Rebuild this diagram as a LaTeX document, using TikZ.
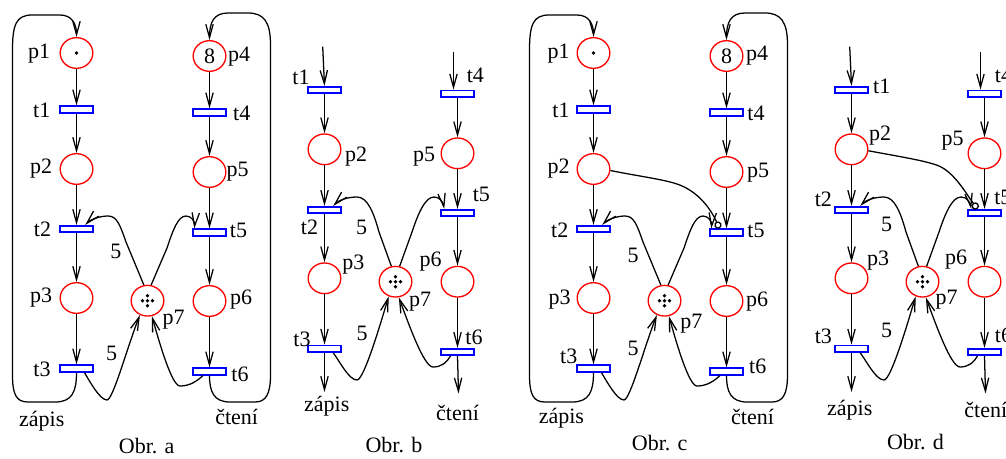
\documentclass[tikz,border=0pt]{standalone}
\usepackage{fontspec}
\setmainfont{Liberation Serif}
\usetikzlibrary{arrows.meta,shapes.geometric}
\newcommand{\netAC}{%
 \node[place] (p1) at (76.5,53) {};
 \node[trans] (t1) at (76.5,109.5) {};
 \node[place] (p2) at (76.5,169) {};
 \node[trans] (t2) at (76.5,229) {};
 \node[place] (p3) at (76.5,298) {};
 \node[trans] (t3) at (76.5,368.5) {};
 \node[place] (p4) at (209.5,56) {8};
 \node[trans] (t4) at (209.5,112.5) {};
 \node[place] (p5) at (209.5,172) {};
 \node[trans] (t5) at (209.5,232.5) {};
 \node[place] (p6) at (209.5,301) {};
 \node[trans] (t6) at (209.5,371.5) {};
 \node[place] (p7) at (147.5,300.7) {};
 \fill (p1.center) circle[radius=1.4pt];
 \foreach \dx/\dy in {0/0,5/0,-5/0,0/5,0/-5} \fill ([shift={(\dx,\dy)}]p7.center) circle[radius=1.45pt];
 \draw[arc] (p1) -- (t1);
 \draw[arc] (t1) -- (p2);
 \draw[arc] (p2) -- (t2);
 \draw[arc] (t2) -- (p3);
 \draw[arc] (p3) -- (t3);
 \draw[arc] (p4) -- (t4);
 \draw[arc] (t4) -- (p5);
 \draw[arc] (p5) -- (t5);
 \draw[arc] (t5) -- (p6);
 \draw[arc] (p6) -- (t6);
 \draw[arc] (t3.south) .. controls (76.5,392) and (72,402) .. (55,402) -- (28,402)
   .. controls (16,402) and (12.5,394) .. (12.5,375) -- (12.5,50)
   .. controls (12.5,25) and (16,15) .. (32,15) -- (60,15)
   .. controls (72,15) and (76.5,24) .. (p1.north);
 \draw[arc] (t6.south) .. controls (209.5,392) and (214,402) .. (230,402) -- (255,402)
   .. controls (266,402) and (270.5,394) .. (270.5,375) -- (270.5,45)
   .. controls (270.5,22) and (264,13) .. (248,13) -- (228,13)
   .. controls (214,13) and (209.5,22) .. (p4.north);
 \draw[arc] (p7.103) -- (126,242) .. controls (120,225) and (117,216) .. (108,216)
   .. controls (99,216) and (90,220) .. (t2.25);
 \draw[arc] (p7.77) -- (167,248) .. controls (173,230) and (178,216) .. (186,216)
   .. controls (191,216) and (195,221) .. (t5.165);
 \draw[arc] (t3.-27) .. controls (90,382) and (100,400) .. (107,400)
   .. controls (113,400) and (128,345) .. (p7.-118);
 \draw[arc] (t6.-148) .. controls (197,381) and (190,386) .. (180,386)
   .. controls (172,386) and (160,345) .. (p7.-74);
}
\newcommand{\netBD}{%
 \node[trans] (t1) at (324.5,90) {};
 \node[place] (p2) at (324.5,149.3) {};
 \node[trans] (t2) at (324.5,210) {};
 \node[place] (p3) at (324.5,278.3) {};
 \node[trans] (t3) at (324.5,348.7) {};
 \node[trans] (t4) at (457.5,93.7) {};
 \node[place] (p5) at (457.5,153.3) {};
 \node[trans] (t5) at (457.5,213) {};
 \node[place] (p6) at (457.5,281.7) {};
 \node[trans] (t6) at (457.5,352) {};
 \node[place] (p7) at (395.5,281.7) {};
 \foreach \dx/\dy in {0/0,5/0,-5/0,0/5,0/-5} \fill ([shift={(\dx,\dy)}]p7.center) circle[radius=1.45pt];
 \coordinate (in1) at (322.7,46.7);
 \coordinate (in4) at (453.5,52);
 \coordinate (out3) at (324.5,392);
 \coordinate (out6) at (458.5,393.5);
 \draw[arc] (in1) -- (t1.north);
 \draw[arc] (in4) -- ([xshift=-3pt]t4.north);
 \draw[arc] (t1) -- (p2);
 \draw[arc] (p2) -- (t2);
 \draw[arc] (t2) -- (p3);
 \draw[arc] (p3) -- (t3);
 \draw[arc] (t3.south) -- (out3);
 \draw[arc] (t4) -- (p5);
 \draw[arc] (p5) -- (t5);
 \draw[arc] (t5) -- (p6);
 \draw[arc] (p6) -- (t6);
 \draw[arc] (t6.south) -- (out6);
 \draw[arc] (p7.105) -- (379,232) .. controls (374,214) and (368,197) .. (357,197)
   .. controls (348,197) and (339,200) .. (t2.25);
 \draw[arc] (p7.75) -- (412,232) .. controls (418,214) and (425,197) .. (434,197)
   .. controls (440,197) and (443,202) .. (t5.163);
 \draw[arc] (t3.-25) .. controls (340,362) and (349,380) .. (357,380)
   .. controls (364,380) and (381,322) .. (p7.-115);
 \draw[arc] (t6.-150) .. controls (447,362) and (442,367) .. (433,367)
   .. controls (424,367) and (409,325) .. (p7.-78);
}
\begin{document}
\begin{tikzpicture}[x=0.75pt,y=-0.75pt,
  every node/.style={font=\fontsize{16.5}{18}\selectfont, inner sep=0pt},
  place/.style={draw=red, line width=1pt, ellipse, minimum width=24.5pt, minimum height=23pt, inner sep=0pt},
  trans/.style={draw=blue, line width=1.3pt, rectangle, minimum width=24.5pt, minimum height=4.8pt, inner sep=0pt, fill=white},
  arc/.style={draw, line width=0.95pt, -{Straight Barb[length=10pt,width=5.5pt]}},
  inhib/.style={draw, line width=0.95pt, -{Circle[open,length=5.5pt,width=5.5pt]}}]
\path[use as bounding box, fill=white] (0,0) rectangle (1006,458);
% ---------- Obr. a ----------
\begin{scope}[name prefix=a-]
 \netAC
 \node (w1) at (115.8,251.7) {5};
 \node (w2) at (111.7,353.3) {5};
 \node (lp1) at (39,54) {p1};
 \node (lt1) at (41.7,110) {t1};
 \node (lp2) at (41,169) {p2};
 \node (lt2) at (42.5,229) {t2};
 \node (lp3) at (41,298) {p3};
 \node (lt3) at (42,369) {t3};
 \node (lp4) at (239,56.7) {p4};
 \node (lt4) at (241.7,113) {t4};
 \node (lp5) at (237.5,172) {p5};
 \node (lt5) at (238.5,230) {t5};
 \node (lp6) at (241,300) {p6};
 \node (lt6) at (240,374) {t6};
 \node (lp7) at (173.7,320) {p7};
 \node (lz) at (41.7,420.7) {zápis};
 \node (lc) at (236.7,416.7) {čtení};
 \node (cap) at (146.7,446.5) {Obr. a};
\end{scope}
% ---------- Obr. b ----------
\begin{scope}[name prefix=b-]
 \netBD
 \node (w1) at (361.7,227) {5};
 \node (w2) at (362,333.3) {5};
 \node (lt1) at (301,77.5) {t1};
 \node (lp2) at (356,156.7) {p2};
 \node (lt2) at (309.5,227.5) {t2};
 \node (lp3) at (353.3,265) {p3};
 \node (lt3) at (302,339.2) {t3};
 \node (lt4) at (475.3,75.8) {t4};
 \node (lp5) at (424,156.7) {p5};
 \node (lt5) at (481.3,194) {t5};
 \node (lp6) at (430.5,262) {p6};
 \node (lt6) at (474,337.5) {t6};
 \node (lp7) at (420,301.7) {p7};
 \node (lz) at (326.7,406) {zápis};
 \node (lc) at (457.5,412.5) {čtení};
 \node (cap) at (394,445) {Obr. b};
\end{scope}
% ---------- Obr. c ----------
\begin{scope}[shift={(517,0)}, name prefix=c-]
 \netAC
 \draw[inhib] (p2.-5) .. controls (120,176) and (145,179) .. (160,184)
   .. controls (178,190) and (192,205) .. (t5.150);
 \node (w1) at (116,255) {5};
 \node (w2) at (116,348.3) {5};
 \node (lp1) at (41.5,53.3) {p1};
 \node (lt1) at (44,110) {t1};
 \node (lp2) at (41.7,168.3) {p2};
 \node (lt2) at (42.7,230) {t2};
 \node (lp3) at (42.7,300) {p3};
 \node (lt3) at (51.7,356.7) {t3};
 \node (lp4) at (240.2,56) {p4};
 \node (lt4) at (239,113.3) {t4};
 \node (lp5) at (241.2,172.3) {p5};
 \node (lt5) at (239,230) {t5};
 \node (lp6) at (240.2,301.7) {p6};
 \node (lt6) at (240.7,366.7) {t6};
 \node (lp7) at (174.4,323.3) {p7};
 \node (lz) at (44.4,418.3) {zápis};
 \node (lc) at (235.5,416.7) {čtení};
 \node (cap) at (142.7,443.3) {Obr. c};
\end{scope}
% ---------- Obr. d ----------
\begin{scope}[shift={(527,0)}, name prefix=d-]
 \netBD
 \draw[inhib] (p2.-5) .. controls (375,157) and (400,161) .. (412,166)
   .. controls (428,173) and (440,195) .. (t5.150);
 \node (w1) at (359.7,224) {5};
 \node (w2) at (359.7,330) {5};
 \node (lt1) at (354.7,86.7) {t1};
 \node (lp2) at (353,136) {p2};
 \node (lt2) at (296.3,199) {t2};
 \node (lp3) at (351,260.7) {p3};
 \node (lt3) at (296.3,336.7) {t3};
 \node (lt4) at (476.5,75.8) {t4};
 \node (lp5) at (425.5,140.8) {p5};
 \node (lt5) at (475.8,197.5) {t5};
 \node (lp6) at (429,260) {p6};
 \node (lt6) at (476.5,335) {t6};
 \node (lp7) at (419.7,300) {p7};
 \node (lz) at (322.7,410) {zápis};
 \node (lc) at (458.8,410) {čtení};
 \node (cap) at (388.5,441.7) {Obr. d};
\end{scope}
\end{tikzpicture}
\end{document}
